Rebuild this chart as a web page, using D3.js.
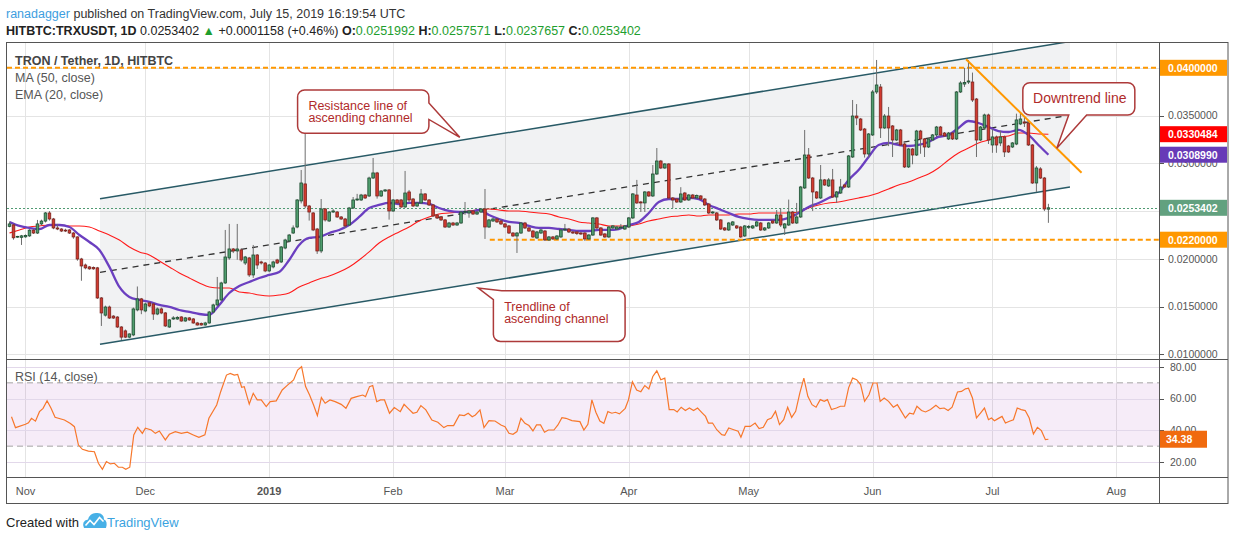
<!DOCTYPE html>
<html><head><meta charset="utf-8">
<script src="https://cdn.jsdelivr.net/npm/d3@7"></script>
<style>
body{margin:0;background:#fff;}
svg{display:block;font-family:"Liberation Sans",Arial,sans-serif;}
</style></head>
<body><svg id="chart" width="1234" height="540"></svg>
<script>
// ---------------- DATA ----------------
const startDate = "2018-10-28";           // first daily candle
// daily candles [open, high, low, close] in units of 0.0001 USDT
const candles = [
[234,239,233,236.5],[235.5,236.5,220,222],[223,224,222,223.5],[222.5,225,214.5,224],[223,225.5,222,224.5],
[224,231,223,230],[230,231,226,227],[227,240.7,226,236.5],[236.5,241,235,239.5],[239.5,249,238,248],
[248,250,240,241.7],[241.7,242.8,231,232.3],[232.3,236.5,230,231.2],[231.2,232,228,229.1],[230,231.5,228,229.1],
[230.2,231,226,227],[227,228,221,222.9],[222.9,223.5,198,199.8],[199.8,201,177,192.5],[193.5,195,189,190.5],
[191.5,192.5,188.5,189.5],[191,192,188.5,189.5],[190.5,191.5,158,159],[159,160,129.7,143.3],[141,151,139.5,149.5],
[149.5,151,137,138],[140,141,137,138],[139,140,127.5,128.6],[128.6,129.5,115,118],[124.5,126,117,118],
[118,122,117,121.3],[120.3,149,119,147.5],[146.5,171,145,158],[158,159,142,146.5],[145.4,154,144,152.7],
[153.8,155,149.5,150.6],[152.7,154,136,142.2],[142.2,149,141,147.5],[147.5,149,142,143.3],[143.3,144.3,128.6,129.7],
[128.6,137,127.6,136],[137,140,136,138.1],[137,140,136,138.6],[139.1,140,134,134.9],[134.9,139.1,134,138.1],
[138.1,139,135,136],[137,138,132,132.8],[132.8,133.9,130,130.7],[132.3,133.3,130,130.7],[130.7,134,130,132.8],
[132.8,145.4,132,144.3],[144.3,153,143,151.7],[151.7,181,150.6,156.9],[156.9,176,155.9,174.7],[174.7,230.2,173.7,201.9],
[200.9,236.5,199,210.3],[210.3,211.3,206,208.2],[208.2,236.5,199,210.3],[209.3,211,197,198.8],[195.6,203,193.5,201.9],
[200.9,202,181,183.1],[183.1,214.5,180,204],[204,205,189.4,193.5],[196.7,198,194,195.6],[195.6,196.7,186,187.3],
[187.3,194.6,186,193.5],[191.5,198,190,196.7],[198.8,200,194.5,195.6],[196.7,213.4,195.6,212.4],[211.3,221,210,219.7],
[218.7,226,217.6,224.9],[227,235,226,232.3],[233.3,262.6,232,261.6],[260.6,293,258,279.4],[278.4,345.4,253,255.3],
[255.3,256.4,240,249],[248,249,229,230.2],[231.2,232.3,205.1,208.2],[208.2,262.6,206,252.2],[252.2,253.2,239,240.7],
[239.6,250,238.6,249],[249,252,248,250.1],[249,250.1,242.8,243.8],[243.8,244.8,240.7,241.7],[241.7,242.8,232.3,234.4],
[235.4,254.3,234.4,253.2],[253.2,264.7,252.2,261.6],[261.6,268,260.6,262.6],[261.6,268,260.6,266.8],[266.8,267.9,262.6,263.7],
[265.8,286,264.7,284.6],[284.6,305.6,283.6,289.9],[289.9,291,263,265.8],[265.8,272,264.7,271],[271,273,270,272.1],
[272.1,273.1,241,250.1],[250.1,262.6,249,261.6],[261.6,262.6,257.4,258.5],[261.6,262.6,253.2,254.3],[254.3,292,253.2,268.9],
[270,272.1,259.5,261.6],[262.6,263.7,254.3,255.3],[255.3,259.5,254.3,258.5],[258.5,273.1,257.4,267.9],[267.9,268.9,260.6,261.6],
[261.6,262.6,255.3,256.4],[256.4,257.4,243.8,244.8],[245.9,246.9,241.7,242.8],[243.8,244.8,239.6,240.7],[240.7,241.7,232.3,233.3],
[233.3,238.6,232.3,237.5],[237.5,238.6,234.4,235.4],[235.4,238.6,234.4,237.5],[237.5,250.1,236.5,249],[249,259.5,246,249.5],
[248,251.1,243,250.1],[250.1,251.1,245.9,246.9],[246.9,250.1,245.9,249],[249,253.2,248,252.2],[252.2,273.1,220.8,233.3],
[233.3,241.7,232.3,240.7],[239.6,243,238.6,241.7],[241.7,242.8,237.5,238.6],[239.6,240.7,235.4,236.5],[236.5,237.5,232.3,233.3],
[234.4,235.4,226,227],[227,228,222.9,223.9],[223.9,228,206.1,227],[227,238.6,226,237.5],[237.5,238.6,231.2,232.3],
[232.3,233.3,228.1,229.1],[229.1,230.2,221.8,222.9],[221.8,229.1,220.8,228.1],[227,231.2,226,230.2],[229.1,230.2,218.7,219.7],
[219.7,223.9,218.7,222.9],[222.9,223.9,219.7,220.8],[220.8,224.9,219.7,223.9],[222.9,231.2,221.8,230.2],[230.2,236.5,229.1,231.2],
[231.2,232.3,227,228.1],[228.1,229.1,226,227],[228.1,229.1,224.9,226.5],[227,228.1,224.9,226],[227,228.1,218.7,220.8],
[220.8,226,219.7,224.9],[224.9,243.8,223.9,242.8],[242.8,243.8,231.2,232.3],[232.3,233.3,223.9,224.9],[226,227,221.8,222.9],
[222.9,234.4,221.8,233.3],[232.3,235.4,231.2,234.4],[231.2,234.4,230.2,233.3],[232.3,236.5,231.2,233.3],[231.2,235.4,230.2,234.4],
[233.3,243.8,232.3,242.8],[242.8,268.9,241.7,267.9],[266.8,282.6,257.4,258.5],[259.5,260.6,249,258.5],[258.5,271,249,270],
[270,271,264.7,265.8],[265.8,298.2,264.7,288.8],[288.8,316,287.8,302.4],[302.4,303.5,294,295.1],[295.1,300.3,294.1,299.3],
[299.3,300.3,262.6,263.7],[263.7,264.7,253,261.6],[262.6,263.7,258.5,259.5],[259.5,275,258.5,267.9],[268.9,270,260.6,261.6],
[261.6,267.9,260.6,266.8],[266.8,267.9,262.6,263.7],[263.7,267.4,262.6,266.3],[265.8,266.8,261.6,262.6],[262.6,263.7,255.3,256.4],
[257.4,258.5,246.9,248],[248,250.1,246.9,249],[248,249,239.6,240.7],[240.7,241.7,230.2,231.2],[232.3,233.3,229.1,230.2],
[230.2,238.6,229.1,237.5],[235.4,239.6,234.4,238.6],[234.4,235.4,231.2,232.3],[233.3,234.4,221.8,222.9],[223.9,235.4,222.9,234.4],
[233.3,235.4,231.2,233.8],[232.3,235.4,231.2,234.4],[234.4,239.6,233.3,238.6],[237.5,238.6,229.1,230.2],[230.2,233.3,229.1,232.3],
[232.3,238.6,231.2,237.5],[239.6,240.7,236.5,237.5],[237.5,251.1,236.5,245.9],[245.9,253,233.3,235.4],[232.3,237.5,224.9,236.5],
[235.4,262,234.4,249],[249,250.1,236.5,237.5],[237.5,258.5,236.5,243.8],[243.8,276.3,242.8,275.2],[274.2,334.9,273.1,308.7],
[308.7,316,283.6,284.6],[284.6,285.7,250,270],[270,271,262.6,263.7],[263.7,298.2,262.6,282.6],[282.6,283.6,276.3,277.3],
[276.3,284.6,275.2,282.6],[282.6,294.1,263.7,264.7],[264.7,271,258.5,270],[268.9,283.6,267.9,275.2],[277.3,278.4,274.2,275.2],
[275.2,308.7,274.2,307.7],[306.6,366.3,305.6,349.5],[349.5,362,340,347.5],[346.4,347.5,333.8,334.9],[335.9,337,306,309.8],
[309.8,331.7,306,330.7],[329.7,376.8,328.6,374.7],[374.7,408.2,372.6,382],[379.9,383,326.5,337],[337,351.6,336,349.5],
[349.5,359,318,337],[339.1,340.1,306.6,324.4],[324.4,336,323.4,334.9],[334.9,336,318.1,319.2],[320.2,321.3,295.1,296.2],
[296.2,316,295.1,315],[315,316,299,308.7],[308.7,335,307.7,333.8],[333.8,335,310,325.5],[325.5,326.5,306.6,317.1],
[317.1,326.5,316,325.5],[324.4,330.7,323.4,329.7],[329.7,339.1,328.6,338],[338,339.1,328.6,329.7],[331.7,332.8,327.6,328.6],
[325.5,332.8,324.4,331.7],[331.7,332.8,324.4,325.5],[325.5,375.7,324.4,374.7],[374.7,386,373.6,384.1],[383,400,380,384.6],
[385.1,408.2,383,386.2],[385.1,395,364.2,366.3],[367.3,368.4,306.6,324.4],[324.4,339.1,323.4,338],[337,352,336,350.6],
[350.6,352,320.2,324.4],[319.2,336,311,327.6],[327.6,329,311,319.2],[321.3,334,318,327.6],[327.6,329,306.6,311.9],
[318.1,319.2,310.8,311.9],[317.1,322.3,316,321.3],[320.2,352,319,345.4],[341.2,352.7,340,346.4],[343.3,349,338,342.2],
[342.2,343.3,318.1,319.2],[319.2,320.2,278.4,279.4],[279.4,297.2,270,295.1],[294.1,296,283.6,284.6],[284.6,285.7,250,252.2],
[251.992,257.571,237.657,253.402]
];
// MA(50) and EMA(20) read every 2.5 days from day 0 (units 0.0001), last point on the final day
const lineStep = 2.5;
const ma50 = [227.0,230.2,233.3,234.4,235.4,235.4,234.4,234.4,233.3,229.1,224.9,219.7,212.4,207.2,204.0,197.7,191.5,185.2,179.9,174.7,
170.5,169.5,169.5,165.3,164.2,162.1,161.1,162.1,164.2,170.5,174.7,178.9,182.0,186.2,191.5,198.8,207.2,216.6,222.9,228.1,
233.3,239.6,243.8,246.9,248.0,249.0,250.1,251.1,252.2,251.1,250.1,250.1,249.0,248.0,246.9,243.8,241.7,238.6,237.5,236.5,
234.4,234.4,234.4,236.5,239.6,241.7,243.8,244.8,245.9,244.8,245.9,245.9,245.9,246.9,246.9,248.0,248.0,248.0,248.0,249.0,
253.2,256.4,258.5,259.5,261.6,263.7,265.8,268.9,273.1,277.3,280.5,284.6,288.8,295.1,303.5,310.8,316.0,321.3,324.4,327.6,
328.6,331.7,331.7,330.7];
const ma50Last = 330.484;
const ema20 = [238.6,234.4,232.3,231.2,235.4,235.4,233.3,224.9,217.6,209.3,191.5,170.5,160.0,156.9,154.8,151.7,149.6,146.4,144.3,142.2,
141.2,151.7,164.2,171.6,175.7,179.9,183.1,186.2,198.8,214.5,221.8,222.9,227.0,230.2,235.4,243.8,253.2,256.4,258.5,257.4,
258.5,258.5,257.4,253.2,250.1,249.0,249.0,251.1,245.9,241.7,238.6,237.5,234.4,232.3,232.3,231.2,230.2,229.1,229.1,230.2,
230.2,231.2,235.4,238.6,248.0,259.5,262.6,262.6,263.7,262.6,256.4,252.2,248.0,243.8,241.7,240.7,240.7,240.7,242.8,248.0,
254.3,258.5,263.7,268.9,282.6,293.0,306.6,319.2,321.3,319.2,318.1,319.2,322.3,327.6,329.7,337.0,344.3,342.2,338.0,333.8,
332.8,334.9,329.7,319.2];
const ema20Last = 308.990;
// RSI(14) readings [day, value]
const rsi = [[0.5,48.6],[1.5,41.7],[4,43.8],[4.75,44.8],[5.5,47.6],[6.5,45.8],[7.5,51.8],[8.4,53.9],[9.4,58.7],[10.4,53.9],[11.4,48.2],[13.75,46.5],[15.25,44.3],[16.25,42.3],[17.25,30.7],[18.25,28.0],[19.75,26.9],[21.25,26.5],[22.25,19.2],[23.25,15.4],[24.25,20.3],[25.25,18.8],[26.25,19.2],[27.25,16.7],[28.25,16.7],[29.1,15.4],[30.1,16.7],[31.1,37.1],[32.1,41.9],[33.25,38.1],[34,41.3],[35.5,40.2],[36.5,38.1],[37.5,39.6],[39,34.0],[40,37.5],[41.5,39.2],[43,38.1],[44.5,38.8],[46,37.1],[47.4,35.6],[48.9,37.1],[49.9,47.6],[51.85,56.0],[52.85,64.4],[54.3,74.9],[55.25,76.0],[56.25,74.9],[57.1,75.3],[58.1,67.2],[58.75,67.6],[60,56.6],[61,63.4],[62,59.2],[63,59.2],[64.25,55.0],[65.25,58.1],[66.75,58.6],[68.25,65.5],[69.65,68.7],[71.1,71.8],[72.1,78.1],[73.1,80.2],[74.1,67.6],[75.1,62.3],[76.1,56.0],[77.05,49.3],[78.05,60.7],[79,57.1],[80.2,59.2],[81.5,58.1],[83,56.4],[84.2,53.9],[85.5,60.2],[86.9,61.3],[88.4,62.3],[89.1,61.3],[90.1,67.6],[90.9,68.3],[91.9,58.1],[92.85,59.2],[93.85,59.2],[95.1,50.8],[96.3,54.4],[97.8,51.8],[98.75,56.4],[99.75,53.9],[101,50.8],[101.95,51.4],[102.95,55.6],[104.2,52.9],[105.7,46.5],[107.2,45.1],[108.7,41.7],[109.65,43.0],[111.15,43.0],[112.6,49.7],[113.8,49.3],[114.8,50.8],[115.8,48.6],[116.6,49.7],[117.75,52.9],[118.75,41.7],[120,46.1],[121.5,45.9],[123,43.4],[124,42.3],[125,38.1],[126,37.5],[127,39.2],[128,47.6],[129,44.4],[130,43.0],[131,39.6],[131.9,43.4],[132.9,43.4],[133.9,38.8],[134.85,40.2],[136.25,40.2],[137.25,43.4],[138.25,48.0],[139.25,47.6],[140.75,46.1],[142.75,45.5],[143.75,40.2],[144.75,43.8],[145.75,59.2],[146.75,51.4],[147.75,45.9],[148.75,44.4],[149.75,51.8],[150.75,50.8],[151.65,51.4],[152.65,50.4],[154.1,53.9],[154.9,59.2],[155.9,70.7],[156.95,65.5],[158,64.4],[159,68.3],[160,66.2],[161,74.0],[162,77.6],[163,71.9],[164,73.0],[165.1,53.1],[166.25,53.1],[167.1,51.6],[168.1,54.6],[169.15,52.5],[170.15,54.1],[171.2,52.5],[172.2,54.1],[173.4,50.9],[174.2,48.8],[174.9,44.6],[175.95,44.6],[177,40.4],[178.25,37.3],[179,36.9],[180,41.5],[181.25,40.4],[182.35,39.4],[183.05,35.6],[184.1,42.5],[185.4,42.5],[186.6,44.6],[187.6,41.1],[188.65,41.9],[189.7,46.7],[190.7,47.8],[191.7,52.0],[192.7,43.6],[193.75,46.7],[194.75,54.6],[195.75,48.2],[196.75,52.0],[197.8,63.6],[198.8,73.0],[199.8,61.5],[200.85,56.2],[201.85,54.6],[202.9,59.4],[203.9,58.3],[204.7,59.4],[205.7,53.1],[206.95,54.1],[207.95,55.2],[209,55.2],[210,66.8],[211,73.0],[212,72.0],[213,68.9],[214,58.3],[215.1,62.5],[216.1,69.9],[217.1,69.9],[217.9,58.3],[218.9,60.4],[220,58.3],[221.2,54.6],[222.2,56.2],[223.2,52.0],[224.2,47.8],[225.25,50.9],[226.25,50.3],[227.1,55.2],[228.25,52.5],[229.25,51.6],[230.5,53.1],[231.85,55.8],[232.85,53.7],[233.9,54.1],[234.9,52.5],[235.9,54.6],[237.25,64.2],[238.25,64.6],[239.25,66.2],[240,66.6],[241,60.4],[242,47.8],[243,50.9],[244,54.1],[245,46.7],[245.75,47.8],[246.5,46.1],[247.4,47.4],[248.4,48.8],[249.25,44.6],[250.25,45.7],[251.25,46.7],[252.2,54.1],[253.2,53.1],[254.2,52.5],[255.2,47.8],[256.25,37.7],[257.25,41.9],[258.25,39.8],[259.25,34.1],[260,34.38]];
const rsiLast = 34.38;
const priceTicks = [0.01,0.015,0.02,0.025,0.03,0.035,0.04];
const rsiTicks = [20,40,60,80];
const rsiBands = [30,70];
const monthTicks = [["2018-11-01","Nov"],["2018-12-01","Dec"],["2019-01-01","2019"],["2019-02-01","Feb"],["2019-03-01","Mar"],
  ["2019-04-01","Apr"],["2019-05-01","May"],["2019-06-01","Jun"],["2019-07-01","Jul"],["2019-08-01","Aug"]];
// drawings: [day, price]
const channelUpper = [[22.65,0.026283],[265.4,0.042754]];
const channelLower = [[22.65,0.011048],[265.4,0.027519]];
const channelMid   = [[22.65,0.018587],[264.1,0.034953]];
const downtrend    = [[239.4,0.04089],[268.3,0.029016]];
const resistance = 0.04, support = 0.022, supportFrom = 120.2;
const lastPrice = 0.0253402;
const priceTags = [[0.04,"#ff9800"],[0.0330484,"#ff0000"],[0.030899,"#673ab7"],[0.0253402,"#62a17f"],[0.022,"#ff9800"]];
const callouts = [
  {lines:["Resistance line of","ascending channel"], at:[72.1,0.037676], tip:[112.7,0.032723], size:12.5},
  {lines:["Trendline of","ascending channel"], at:[121.1,0.01666], tip:[117.3,0.016943], size:12.5},
  {lines:["Downtrend line"], at:[253.6,0.03844], tip:[262.1,0.031571], size:14}
];

// ---------------- LAYOUT ----------------
const L=7, R=1159, FR=1228, MT=42, MB=359, RB=477, AB=503;
const svg = d3.select("#chart");
const t0 = Date.parse(startDate+"T00:00:00Z");
const dayOf = s => (Date.parse(s+"T00:00:00Z")-t0)/864e5;
const x = d3.scaleLinear().domain([-0.626,287.68]).range([L,R]);
const y = d3.scaleLinear().domain([0.009508,0.042702]).range([MB,MT]);
const yr = d3.scaleLinear().domain([10.53,85.05]).range([RB,MB]);
const P = v => v/1e4;

const defs = svg.append("defs");
defs.append("clipPath").attr("id","cm").append("rect").attr("x",L).attr("y",MT).attr("width",R-L).attr("height",MB-MT);
defs.append("clipPath").attr("id","cr").append("rect").attr("x",L).attr("y",MB).attr("width",R-L).attr("height",RB-MB);

const gridC="#e4e4e4";
const gGrid = svg.append("g");
monthTicks.forEach(([d])=>{
  const xx = Math.round(x(dayOf(d)))+0.5;
  gGrid.append("line").attr("x1",xx).attr("x2",xx).attr("y1",MT).attr("y2",RB).attr("stroke",gridC);
});
priceTicks.forEach(p=>{
  const yy=Math.round(y(p))+0.5;
  gGrid.append("line").attr("x1",L).attr("x2",R).attr("y1",yy).attr("y2",yy).attr("stroke",gridC);
});

// main pane
const gm = svg.append("g").attr("clip-path","url(#cm)");
const ln = d3.line().x(d=>x(d[0])).y(d=>y(d[1]));
gm.append("path").attr("d", ln([channelUpper[0],channelUpper[1],channelLower[1],channelLower[0]])+"Z")
  .attr("fill","#787b86").attr("fill-opacity",0.1);
gm.append("path").attr("d",ln(channelUpper)).attr("stroke","#285a66").attr("stroke-width",1.5).attr("fill","none");
gm.append("path").attr("d",ln(channelLower)).attr("stroke","#285a66").attr("stroke-width",1.5).attr("fill","none");
gm.append("path").attr("d",ln(channelMid)).attr("stroke","#333").attr("stroke-width",1.3).attr("stroke-dasharray","6,5").attr("fill","none");

gm.append("line").attr("x1",L).attr("x2",R).attr("y1",y(resistance)).attr("y2",y(resistance))
  .attr("stroke","#ff9800").attr("stroke-width",2).attr("stroke-dasharray","5,3");
gm.append("line").attr("x1",x(supportFrom)).attr("x2",R).attr("y1",y(support)).attr("y2",y(support))
  .attr("stroke","#ff9800").attr("stroke-width",2).attr("stroke-dasharray","5,3");
gm.append("line").attr("x1",L).attr("x2",R).attr("y1",Math.round(y(lastPrice))+0.5).attr("y2",Math.round(y(lastPrice))+0.5)
  .attr("stroke","#4f9a72").attr("stroke-width",1).attr("stroke-dasharray","2,2");

const seriesPts = (arr,last)=>arr.map((v,i)=>[i*lineStep,P(v)]).concat([[candles.length-1,P(last)]]);
const curve = d3.line().x(d=>x(d[0])).y(d=>y(d[1])).curve(d3.curveMonotoneX);
gm.append("path").attr("d",curve(seriesPts(ma50,ma50Last))).attr("stroke","#ff1a1a").attr("stroke-width",1.1).attr("fill","none");
gm.append("path").attr("d",curve(seriesPts(ema20,ema20Last))).attr("stroke","#6b3fc0").attr("stroke-width",2.3).attr("fill","none");

const gc = gm.append("g");
candles.forEach((c,i)=>{
  const [o,h,l,cl]=c.map(P);
  const cx = x(i), up = cl>=o;
  gc.append("line").attr("x1",cx).attr("x2",cx).attr("y1",y(h)).attr("y2",y(l)).attr("stroke","#6e6e6e").attr("stroke-width",1);
  const top=y(Math.max(o,cl)), bot=y(Math.min(o,cl));
  gc.append("rect").attr("x",cx-1.3).attr("width",2.6).attr("y",top).attr("height",Math.max(0.8,bot-top))
    .attr("fill",up?"#4f9d6d":"#d23a2f").attr("stroke",up?"#1e4d31":"#7a231d").attr("stroke-width",0.8);
});

gm.append("path").attr("d",ln(downtrend)).attr("stroke","#ff9800").attr("stroke-width",2).attr("fill","none");

function calloutPath(bx,by,w,h,r,tx,ty){
  const A=(ex,ey)=>`A${r},${r} 0 0 1 ${ex},${ey}`;
  if (tx>bx+w){
    const a=by+h*0.3, b=by+h*0.68;
    return `M${bx+r},${by}H${bx+w-r}${A(bx+w,by+r)}V${a}L${tx},${ty}L${bx+w},${b}V${by+h-r}${A(bx+w-r,by+h)}H${bx+r}${A(bx,by+h-r)}V${by+r}${A(bx+r,by)}Z`;
  } else if (ty>by+h){
    const a=bx+w*0.41, b=bx+w*0.57;
    return `M${bx+r},${by}H${bx+w-r}${A(bx+w,by+r)}V${by+h-r}${A(bx+w-r,by+h)}H${b}L${tx},${ty}L${a},${by+h}H${bx+r}${A(bx,by+h-r)}V${by+r}${A(bx+r,by)}Z`;
  } else {
    return `M${bx+8.4},${by}H${bx+w-r}${A(bx+w,by+r)}V${by+h-r}${A(bx+w-r,by+h)}H${bx+r}${A(bx,by+h-r)}V${by+9}L${tx},${ty}Z`;
  }
}
const calloutSizes=[[131.3,43.3],[131.7,50.7],[112,32.3]];
const gcall = svg.append("g");
callouts.forEach((c,k)=>{
  const bx=x(c.at[0]), by=y(c.at[1]), [w,h]=calloutSizes[k];
  gcall.append("path").attr("d",calloutPath(bx,by,w,h,7,x(c.tip[0]),y(c.tip[1])))
    .attr("fill","#fff").attr("stroke","#ad3a3a").attr("stroke-width",1.5);
  c.lines.forEach((t,j)=>{
    gcall.append("text").attr("x",bx+(k==2?10.3:10.8)).attr("y",by+20+j*12.2).text(t)
      .attr("fill","#b02a2a").attr("font-size",c.size);
  });
});

// RSI pane
const gr = svg.append("g").attr("clip-path","url(#cr)");
gr.append("rect").attr("x",L).attr("width",R-L).attr("y",yr(rsiBands[1])).attr("height",yr(rsiBands[0])-yr(rsiBands[1]))
  .attr("fill","#9c27b0").attr("fill-opacity",0.09);
rsiTicks.forEach(v=>{
  const yy=Math.round(yr(v))+0.5;
  gr.append("line").attr("x1",L).attr("x2",R).attr("y1",yy).attr("y2",yy).attr("stroke","#e2d8ea");
});
rsiBands.forEach(v=>{
  gr.append("line").attr("x1",L).attr("x2",R).attr("y1",yr(v)).attr("y2",yr(v)).attr("stroke","#a5a5a5").attr("stroke-dasharray","6,4");
});
gr.append("path").attr("d",d3.line().x(d=>x(d[0])).y(d=>yr(d[1]))(rsi)).attr("stroke","#f7772b").attr("stroke-width",1.2).attr("fill","none");

// frame
const fc="#555";
svg.append("rect").attr("x",6.5).attr("y",MT+0.5).attr("width",FR-6.5).attr("height",AB-MT).attr("fill","none").attr("stroke",fc);
[MB,RB].forEach(yy=>svg.append("line").attr("x1",6.5).attr("x2",FR).attr("y1",yy+0.5).attr("y2",yy+0.5).attr("stroke",fc));
svg.append("line").attr("x1",R+0.5).attr("x2",R+0.5).attr("y1",MT).attr("y2",AB).attr("stroke",fc);

// price axis (tick labels fully covered by a price tag are not drawn)
const axisFont=10.5, axC="#555";
priceTicks.forEach(p=>{
  const yy=y(p);
  svg.append("line").attr("x1",R).attr("x2",R+5).attr("y1",Math.round(yy)+0.5).attr("y2",Math.round(yy)+0.5).attr("stroke",axC);
  const covered = priceTags.some(([tp])=>Math.abs(y(tp)-yy)<5);
  if(!covered) svg.append("text").attr("x",R+9).attr("y",yy+3.8).text(d3.format(".7f")(p)).attr("font-size",axisFont).attr("fill",axC);
});
priceTags.forEach(([p,col])=>{
  const yy=y(p);
  svg.append("rect").attr("x",R+1).attr("y",yy-8).attr("width",FR-R-2).attr("height",16).attr("fill",col);
  svg.append("text").attr("x",R+9).attr("y",yy+3.8).text(d3.format(".7f")(p)).attr("font-size",axisFont).attr("fill","#fff").attr("font-weight","bold");
});
rsiTicks.forEach(v=>{
  const yy=yr(v);
  svg.append("line").attr("x1",R).attr("x2",R+5).attr("y1",Math.round(yy)+0.5).attr("y2",Math.round(yy)+0.5).attr("stroke",axC);
  svg.append("text").attr("x",R+11).attr("y",yy+3.8).text(d3.format(".2f")(v)).attr("font-size",axisFont).attr("fill",axC);
});
svg.append("rect").attr("x",R+1).attr("y",yr(rsiLast)-8.5).attr("width",47).attr("height",17).attr("fill","#f06a0e");
svg.append("text").attr("x",R+7).attr("y",yr(rsiLast)+3.8).text(d3.format(".2f")(rsiLast)).attr("font-size",axisFont).attr("fill","#fff").attr("font-weight","bold");

monthTicks.forEach(([d,lab])=>{
  const xx=x(dayOf(d));
  svg.append("text").attr("x",xx).attr("y",494.5).attr("text-anchor","middle").text(lab)
    .attr("font-size",11).attr("fill",axC).attr("font-weight",lab==="2019"?"bold":"normal");
});

svg.append("text").attr("x",15).attr("y",65).text("TRON / Tether, 1D, HITBTC").attr("font-size",12.5).attr("fill","#444").attr("font-weight","bold");
svg.append("text").attr("x",15).attr("y",82).text("MA (50, close)").attr("font-size",12.5).attr("fill","#555");
svg.append("text").attr("x",15).attr("y",99).text("EMA (20, close)").attr("font-size",12.5).attr("fill","#555");
svg.append("text").attr("x",15).attr("y",381).text("RSI (14, close)").attr("font-size",12.5).attr("fill","#555");

const h1 = svg.append("text").attr("x",6).attr("y",17.5).attr("font-size",12.5).attr("fill","#333");
h1.append("tspan").attr("fill","#3d9ee0").text("ranadagger");
h1.append("tspan").text(" published on TradingView.com, July 15, 2019 16:19:54 UTC");
const h2 = svg.append("text").attr("x",6).attr("y",34.5).attr("font-size",12.5).attr("fill","#222");
const G="#1e9e2e";
[["HITBTC:TRXUSDT, 1D","bold",null],["  0.0253402 ",null,null],["▲",null,G],[" +0.0001158 (+0.46%) ",null,null],
 ["O:","bold",null],["0.0251992",null,G],[" H:","bold",null],["0.0257571",null,G],[" L:","bold",null],["0.0237657",null,G],
 [" C:","bold",null],["0.0253402",null,G]].forEach(([t,w,c])=>{
  const s=h2.append("tspan").text(t); if(w) s.attr("font-weight",w); if(c) s.attr("fill",c);
});

svg.append("text").attr("x",6).attr("y",526.5).text("Created with").attr("font-size",13).attr("fill","#222");
svg.append("path").attr("d","M84 528 Q81 521 88 519.5 Q90 512 97.5 513 Q104 513.5 104 519.5 Q108 521 106 528 Z").attr("fill","#47b0e6");
svg.append("polyline").attr("points","85.5,525.5 90,520.5 94,524.5 99.5,517.5 103.5,521.5").attr("fill","none").attr("stroke","#fff").attr("stroke-width",1.6);
svg.append("text").attr("x",107).attr("y",526.5).text("TradingView").attr("font-size",13).attr("fill","#3aa3df");
</script></body></html>
